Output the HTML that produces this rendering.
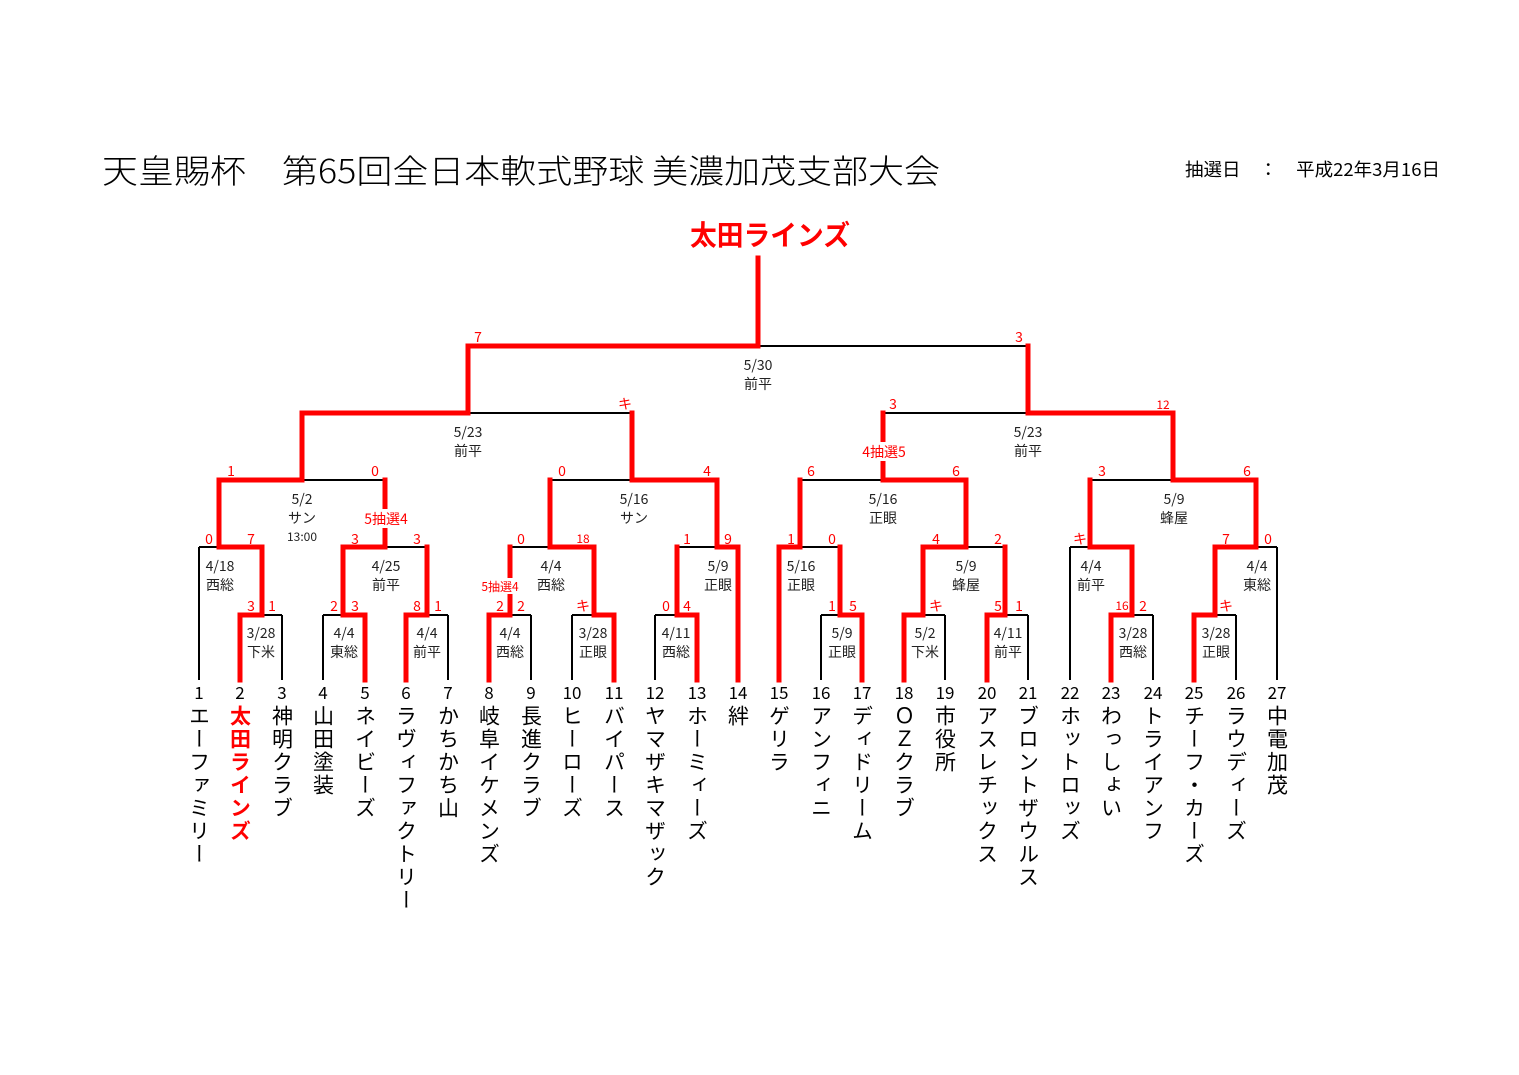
<!DOCTYPE html>
<html><head><meta charset="utf-8"><style>
html,body{margin:0;padding:0;background:#fff}
body{width:1519px;height:1075px;position:relative;overflow:hidden;font-family:"Liberation Sans","Noto Sans CJK JP",sans-serif}
.nm{position:absolute;top:705px;writing-mode:vertical-rl;font-size:21px;letter-spacing:2px;line-height:1;color:#000;font-family:"Noto Sans CJK JP",sans-serif;transform:translateX(-50%)}
svg{position:absolute;left:0;top:0}
</style></head><body>
<svg width="1519" height="1075" font-family="Liberation Sans, Noto Sans CJK JP, sans-serif">
<text x="102" y="183" font-size="33" textLength="838" lengthAdjust="spacingAndGlyphs" font-family="Noto Sans CJK JP, sans-serif" font-weight="300">天皇賜杯　第65回全日本軟式野球 美濃加茂支部大会</text>
<text x="1185" y="176" font-size="18" textLength="255" lengthAdjust="spacingAndGlyphs" font-family="Noto Sans CJK JP, sans-serif">抽選日　：　平成22年3月16日</text>
<text x="770" y="245" font-size="28" fill="#f00" font-weight="bold" text-anchor="middle" textLength="160" lengthAdjust="spacingAndGlyphs" font-family="Noto Sans CJK JP, sans-serif">太田ラインズ</text>
<g stroke="#000" stroke-width="2" fill="none">
<path d="M758 346H1028M468 413H632M883 413H1028M302 480H385M550 480H633M800 480H883M1090 480H1173
M199 547H219M385 547H427M510 547H551M677 547H717M798 547H840M966 547H1005M1070 547H1090M1256 547H1277
M262 615H282M323 615H343M427 615H448M510 615H531M572 615H594M655 615H677M821 615H840M923 615H945M1005 615H1028M1132 615H1153M1215 615H1236
M199 547V680M282 615V680M323 615V680M448 615V680M531 615V680M572 615V680M655 615V680M821 615V680M945 615V680M1028 615V680M1070 547V680M1153 615V680M1236 615V680M1277 547V680"/>
</g>
<g stroke="#f00" stroke-width="5" fill="none" stroke-linecap="square">
<path d="M758 258V346H468V413M1028 346V413M302 413H468M302 413V480M632 413V480M1028 413H1173M883 413V480M1173 413V480
M219 480H302M219 480V547M385 480V547M633 480H717M550 480V547M717 480V547M883 480H966M800 480V547M966 480V547M1173 480H1256M1090 480V547M1256 480V547
M219 547H262V615M343 547H385M343 547V615M427 547V615M551 547H594M510 547V615M594 547V615M717 547H738V680M677 547V615M779 547H800M779 547V680M840 547V615M923 547H966M923 547V615M1005 547V615M1090 547H1132V615M1215 547H1256M1215 547V615
M240 615H262M240 615V680M343 615H365V680M406 615H427M406 615V680M489 615H510M489 615V680M594 615H614V680M677 615H697V680M840 615H862V680M904 615H923M904 615V680M987 615H1005M987 615V680M1111 615H1132M1111 615V680M1194 615H1215M1194 615V680"/>
</g>
<rect x="360" y="509" width="52" height="19" fill="#fff"/>
<rect x="858" y="442" width="52" height="19" fill="#fff"/>
<rect x="476" y="578" width="48" height="16" fill="#fff"/>
<g fill="#f00" font-size="14" text-anchor="middle" font-family="Noto Sans CJK JP, sans-serif">
<text x="478" y="342">7</text><text x="1019" y="342">3</text>
<text x="625" y="409">キ</text><text x="893" y="409">3</text><text x="1163" y="409" font-size="12">12</text>
<text x="231" y="476">1</text><text x="375" y="476">0</text><text x="562" y="476">0</text><text x="707" y="476">4</text><text x="811" y="476">6</text><text x="956" y="476">6</text><text x="1102" y="476">3</text><text x="1247" y="476">6</text>
<text x="209" y="544">0</text><text x="251" y="544">7</text><text x="355" y="544">3</text><text x="417" y="544">3</text><text x="521" y="544">0</text><text x="583" y="543" font-size="12">18</text><text x="687" y="544">1</text><text x="728" y="544">9</text><text x="791" y="544">1</text><text x="832" y="544">0</text><text x="936" y="544">4</text><text x="998" y="544">2</text><text x="1080" y="544">キ</text><text x="1226" y="544">7</text><text x="1268" y="544">0</text>
<text x="251" y="611">3</text><text x="272" y="611">1</text><text x="334" y="611">2</text><text x="355" y="611">3</text><text x="417" y="611">8</text><text x="438" y="611">1</text><text x="500" y="611">2</text><text x="521" y="611">2</text><text x="583" y="611">キ</text><text x="666" y="611">0</text><text x="687" y="611">4</text><text x="832" y="611">1</text><text x="853" y="611">5</text><text x="936" y="611">キ</text><text x="998" y="611">5</text><text x="1019" y="611">1</text><text x="1122" y="610" font-size="12">16</text><text x="1143" y="611">2</text><text x="1226" y="611">キ</text>
<text x="386" y="524">5抽選4</text><text x="884" y="457">4抽選5</text><text x="500" y="591" font-size="12">5抽選4</text>
</g>
<g fill="#222" font-size="14" text-anchor="middle" font-family="Noto Sans CJK JP, sans-serif">
<text x="758" y="370">5/30</text><text x="758" y="389">前平</text>
<text x="468" y="437">5/23</text><text x="468" y="456">前平</text>
<text x="1028" y="437">5/23</text><text x="1028" y="456">前平</text>
<text x="302" y="504">5/2</text><text x="302" y="523">サン</text><text x="302" y="541" font-size="12">13:00</text>
<text x="634" y="504">5/16</text><text x="634" y="523">サン</text>
<text x="883" y="504">5/16</text><text x="883" y="523">正眼</text>
<text x="1174" y="504">5/9</text><text x="1174" y="523">蜂屋</text>
<text x="220" y="571">4/18</text><text x="220" y="590">西総</text>
<text x="386" y="571">4/25</text><text x="386" y="590">前平</text>
<text x="551" y="571">4/4</text><text x="551" y="590">西総</text>
<text x="718" y="571">5/9</text><text x="718" y="590">正眼</text>
<text x="801" y="571">5/16</text><text x="801" y="590">正眼</text>
<text x="966" y="571">5/9</text><text x="966" y="590">蜂屋</text>
<text x="1091" y="571">4/4</text><text x="1091" y="590">前平</text>
<text x="1257" y="571">4/4</text><text x="1257" y="590">東総</text>
<text x="261" y="638">3/28</text><text x="261" y="657">下米</text>
<text x="344" y="638">4/4</text><text x="344" y="657">東総</text>
<text x="427" y="638">4/4</text><text x="427" y="657">前平</text>
<text x="510" y="638">4/4</text><text x="510" y="657">西総</text>
<text x="593" y="638">3/28</text><text x="593" y="657">正眼</text>
<text x="676" y="638">4/11</text><text x="676" y="657">西総</text>
<text x="842" y="638">5/9</text><text x="842" y="657">正眼</text>
<text x="925" y="638">5/2</text><text x="925" y="657">下米</text>
<text x="1008" y="638">4/11</text><text x="1008" y="657">前平</text>
<text x="1133" y="638">3/28</text><text x="1133" y="657">西総</text>
<text x="1216" y="638">3/28</text><text x="1216" y="657">正眼</text>
</g>
<g fill="#000" font-size="17" text-anchor="middle" font-family="Noto Sans CJK JP, sans-serif">
<text x="199" y="699">1</text><text x="240" y="699">2</text><text x="282" y="699">3</text><text x="323" y="699">4</text><text x="365" y="699">5</text><text x="406" y="699">6</text><text x="448" y="699">7</text><text x="489" y="699">8</text><text x="531" y="699">9</text><text x="572" y="699">10</text><text x="614" y="699">11</text><text x="655" y="699">12</text><text x="697" y="699">13</text><text x="738" y="699">14</text><text x="779" y="699">15</text><text x="821" y="699">16</text><text x="862" y="699">17</text><text x="904" y="699">18</text><text x="945" y="699">19</text><text x="987" y="699">20</text><text x="1028" y="699">21</text><text x="1070" y="699">22</text><text x="1111" y="699">23</text><text x="1153" y="699">24</text><text x="1194" y="699">25</text><text x="1236" y="699">26</text><text x="1277" y="699">27</text>
</g>
</svg>
<div class="nm" style="left:199px">エーファミリー</div>
<div class="nm" style="left:240px;color:#f00;font-weight:bold">太田ラインズ</div>
<div class="nm" style="left:282px">神明クラブ</div>
<div class="nm" style="left:323px">山田塗装</div>
<div class="nm" style="left:365px">ネイビーズ</div>
<div class="nm" style="left:406px">ラヴィファクトリー</div>
<div class="nm" style="left:448px">かちかち山</div>
<div class="nm" style="left:489px">岐阜イケメンズ</div>
<div class="nm" style="left:531px">長進クラブ</div>
<div class="nm" style="left:572px">ヒーローズ</div>
<div class="nm" style="left:614px">バイパース</div>
<div class="nm" style="left:655px">ヤマザキマザック</div>
<div class="nm" style="left:697px">ホーミィーズ</div>
<div class="nm" style="left:738px">絆</div>
<div class="nm" style="left:779px">ゲリラ</div>
<div class="nm" style="left:821px">アンフィニ</div>
<div class="nm" style="left:862px">ディドリーム</div>
<div class="nm" style="left:904px">ＯＺクラブ</div>
<div class="nm" style="left:945px">市役所</div>
<div class="nm" style="left:987px">アスレチックス</div>
<div class="nm" style="left:1028px">ブロントザウルス</div>
<div class="nm" style="left:1070px">ホットロッズ</div>
<div class="nm" style="left:1111px">わっしょい</div>
<div class="nm" style="left:1153px">トライアンフ</div>
<div class="nm" style="left:1194px">チーフ・カーズ</div>
<div class="nm" style="left:1236px">ラウディーズ</div>
<div class="nm" style="left:1277px">中電加茂</div>
</body></html>
